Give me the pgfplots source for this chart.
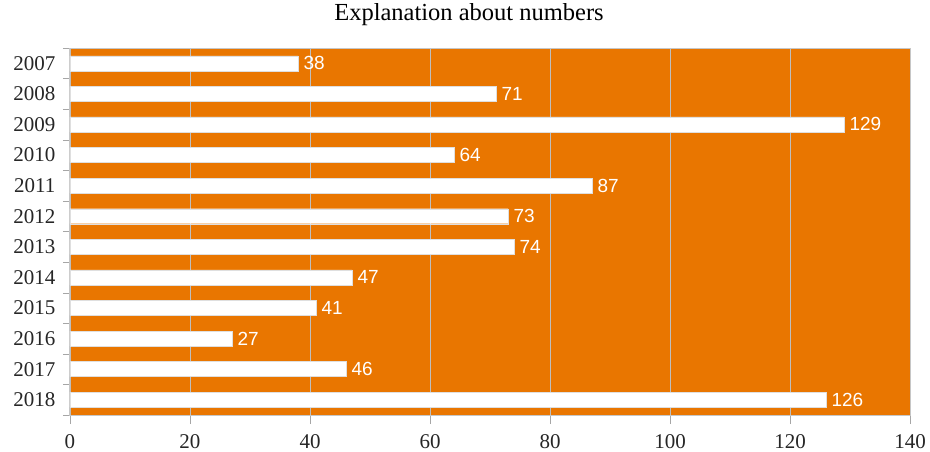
\documentclass[border=0pt]{standalone}
\usepackage{fontspec}
\setmainfont{Liberation Serif}
\newfontfamily\labfont{Liberation Sans}
\usepackage{pgfplots}
\pgfplotsset{compat=1.18}
\definecolor{bgorange}{RGB}{233,118,0}
\definecolor{gridgray}{RGB}{190,190,190}

\begin{document}
\begin{tikzpicture}
\useasboundingbox (-70pt,-37pt) rectangle (860pt,415pt);
\begin{axis}[
    scale only axis,
    width=840pt, height=367pt,
    at={(0,0)}, anchor=south west,
    title={Explanation about numbers},
    title style={font=\fontsize{24.5}{24.5}\selectfont, at={(0.5,1)}, anchor=base, yshift=22pt, xshift=-21pt},
    xbar, bar width=15pt,
    xmin=0, xmax=140,
    ymin=-0.5, ymax=11.5, y dir=reverse,
    xtick={0,20,...,140},
    ytick={0,...,11},
    yticklabels={2007,2008,2009,2010,2011,2012,2013,2014,2015,2016,2017,2018},
    minor ytick={-0.5,0.5,...,11.5},
    major y tick style={draw=none},
    minor y tick style={draw=gray!70},
    minor tick length=7pt,
    major tick length=9pt,
    tick align=outside,
    xtick pos=bottom, ytick pos=left,
    x tick style={draw=gray!70},
    xmajorgrids, grid style={draw=gridgray, line width=0.8pt},
    axis background/.style={fill=bgorange},
    axis line style={draw=gray!45, line width=1pt},
    tick label style={font=\fontsize{21}{21}\selectfont, text=black!85},
    /pgf/number format/assume math mode=true,
    xticklabel style={yshift=-7pt},
    yticklabel style={xshift=-2pt},
    nodes near coords,
    every node near coord/.append style={font=\labfont\fontsize{19}{19}\selectfont, text=white, anchor=west, xshift=2pt},
]
\addplot[fill=white, draw=gray!25] coordinates {
    (38,0) (71,1) (129,2) (64,3) (87,4) (73,5)
    (74,6) (47,7) (41,8) (27,9) (46,10) (126,11)
};
\end{axis}
\end{tikzpicture}
\end{document}
